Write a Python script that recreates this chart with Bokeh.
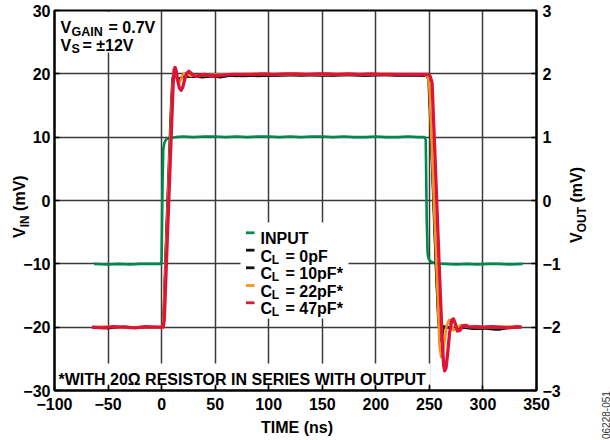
from math import pi
from bokeh.plotting import figure
from bokeh.layouts import column
from bokeh.models import Range1d, LinearAxis, FixedTicker, Label, BoxAnnotation, Div
from bokeh.embed import file_html
from bokeh.resources import INLINE

# ---------------- data ----------------
x_ticks = [-100, -50, 0, 50, 100, 150, 200, 250, 300, 350]
vin_ticks = [-30, -20, -10, 0, 10, 20, 30]
vout_ticks = [-3, -2, -1, 0, 1, 2, 3]

# INPUT (V_IN, mV)
t_in = [-63, -50, -40, -30, -20, -10, -1, 0, 0.4, 0.9, 1.6, 2.6, 4, 6, 9, 13, 20, 30, 40, 50, 60,
        70, 80, 90, 100, 110, 120, 130, 140, 150, 160, 170, 180, 190, 200, 210, 220, 230, 240,
        245.5, 246.6, 247, 247.5, 248.3, 249.3, 251, 253.5, 257, 265, 275, 285, 295, 305, 315, 325, 337]
v_in = [-10.0, -10.1, -10.0, -10.1, -10.0, -10.0, -10.0, -9.6, -4.0, 3.0, 8.2, 9.1, 9.6, 9.8, 9.9, 10.0, 10.1, 10.0, 10.1, 10.1, 10.0,
        10.1, 10.0, 10.1, 10.1, 10.0, 10.1, 10.0, 10.1, 10.1, 10.0, 10.1, 10.0, 10.0, 10.1, 10.0, 10.0, 10.1, 10.0,
        10.0, 9.6, 4.0, -3.0, -8.3, -9.2, -9.6, -9.8, -9.95, -10.0, -10.1, -10.0, -10.1, -10.0, -10.0, -10.1, -10.0]

# C_L = 0pF (V_OUT, mV)
t_c0 = [-65, -50, -35, -20, -5, 0.8, 1.8, 4, 6.5, 8.5, 9.8, 11, 12.5, 14, 16, 18.5, 21, 25, 30, 35, 40, 48, 55, 62,
        70, 80, 90, 100, 115, 130, 145, 160, 175, 190, 205, 220, 235, 247.5, 249, 251, 253.5, 256, 258, 259.5,
        261, 263, 266, 270, 276, 285, 295, 305, 315, 325, 336]
v_c0 = [-2.0, -2.02, -1.99, -2.01, -2.0, -2.0, -1.75, -0.6, 0.55, 1.45, 1.9, 2.02, 2.0, 1.93, 1.92, 1.95, 1.97, 1.96, 1.95, 1.97, 1.95, 1.96, 1.94, 1.97,
        1.96, 1.98, 1.96, 1.97, 1.98, 1.97, 1.98, 1.97, 1.98, 1.97, 1.98, 1.97, 1.98, 1.97, 1.9, 1.15, 0.0, -1.1, -1.85, -2.1,
        -2.08, -1.98, -2.02, -1.99, -2.03, -2.0, -2.03, -2.01, -2.04, -2.01, -2.0]

# C_L = 10pF*
t_c10 = [-65, -45, -25, -5, 0.9, 2.0, 4.2, 6.8, 8.8, 10.2, 11.4, 12.8, 14.5, 16.3, 18.5, 21, 25, 30, 38, 46, 55, 65,
         75, 90, 110, 130, 150, 170, 190, 210, 230, 247.8, 249.5, 251.5, 254, 256.5, 258.5, 260, 261.5, 263.5,
         266, 269, 273, 280, 290, 300, 312, 324, 336]
v_c10 = [-2.01, -2.0, -2.01, -2.0, -2.0, -1.78, -0.62, 0.5, 1.42, 1.88, 2.04, 2.02, 1.92, 1.88, 1.93, 1.97, 1.95, 1.96, 1.94, 1.96, 1.95, 1.97,
         1.96, 1.97, 1.97, 1.98, 1.97, 1.98, 1.97, 1.98, 1.97, 1.97, 1.88, 1.05, -0.1, -1.2, -1.95, -2.22, -2.2, -2.0,
         -1.98, -2.02, -2.03, -2.0, -2.03, -2.02, -2.04, -2.01, -2.0]

# C_L = 22pF*
t_c22 = [-65, -50, -35, -20, -5, 1.0, 2.0, 4.5, 7, 9, 10.3, 11.3, 12.3, 13.5, 15, 16.3, 17.8, 19.5, 21.5, 24, 27, 31,
         36, 42, 50, 60, 75, 90, 110, 130, 150, 170, 190, 210, 230, 245, 248.5, 250, 252, 254.5, 257, 259.5, 261,
         262.3, 264, 266, 268.3, 270.5, 272.5, 275, 279, 285, 295, 310, 325, 336]
v_c22 = [-2.0, -1.99, -2.01, -2.0, -2.0, -2.0, -1.8, -0.65, 0.5, 1.4, 1.85, 2.03, 2.05, 1.98, 1.88, 1.86, 1.9, 1.98, 2.01, 1.99, 1.97, 1.97,
         1.98, 1.98, 1.99, 1.99, 1.99, 2.0, 1.99, 2.0, 1.99, 2.0, 1.99, 2.0, 1.99, 1.99, 1.96, 1.8, 0.95, -0.15, -1.2, -2.3, -2.47,
         -2.45, -2.25, -1.98, -1.89, -1.95, -2.05, -2.02, -1.97, -1.99, -2.0, -2.0, -1.99, -2.0]

# C_L = 47pF*
t_c47 = [-65, -55, -45, -35, -25, -15, -5, 1.5, 2.5, 5, 7.5, 9.5, 10.8, 11.8, 12.6, 13.6, 15, 16.5, 18.2, 19.8, 21.5,
         23.5, 25.5, 27.5, 30, 33, 36, 40, 45, 50, 58, 66, 75, 85, 95, 105, 115, 125, 135, 145, 155, 165, 175, 185,
         195, 205, 215, 225, 235, 243, 249, 250.8, 252.5, 255, 258, 260.5, 262.2, 263.3, 264.3, 265.5, 267, 268.8,
         270.8, 272.5, 274.3, 276.2, 278.5, 281, 284, 288, 293, 300, 308, 316, 324, 332, 336]
v_c47 = [-2.0, -2.01, -1.99, -2.0, -2.01, -1.99, -2.0, -2.0, -1.88, -0.75, 0.37, 1.27, 1.85, 2.07, 2.1, 2.05, 1.9, 1.78, 1.74, 1.79, 1.91,
         2.01, 2.04, 2.01, 1.97, 1.96, 1.98, 1.99, 1.97, 1.97, 1.98, 1.99, 1.99, 1.99, 2.0, 1.99, 2.0, 2.0, 1.99, 2.0, 2.0, 1.99, 2.0, 1.99,
         2.0, 1.99, 1.99, 1.99, 1.99, 1.99, 1.99, 1.96, 1.86, 0.8, -0.52, -1.6, -2.3, -2.6, -2.69, -2.65, -2.42, -2.1,
         -1.89, -1.87, -1.95, -2.06, -2.05, -1.98, -1.97, -2.0, -1.99, -2.0, -1.99, -2.0, -2.01, -1.99, -2.0]

legend_labels = ["INPUT", "0pF", "10pF*", "22pF*", "47pF*"]

# ---------------- layout ----------------
W, H = 610, 440
FL, FR, FT, FB = 54, 536, 10, 390   # frame edges in canvas pixels
FONT = "Liberation Sans"
GREEN, BLACK, ORANGE, RED = "#00894F", "#111111", "#F5921E", "#DC1438"


def X(px):
    return -100 + (px - FL) * 450.0 / (FR - FL)


def Y(py):
    return 30 - (py - FT) * 60.0 / (FB - FT)


p = figure(width=W, height=H, output_backend="svg", toolbar_location=None,
           x_range=Range1d(-100, 350), y_range=Range1d(-30, 30),
           min_border_left=FL, min_border_right=W - FR,
           min_border_top=FT, min_border_bottom=H - FB)
p.extra_y_ranges = {"vout": Range1d(-3, 3)}
p.background_fill_color = "white"
p.border_fill_color = "white"
p.outline_line_color = "black"
p.outline_line_width = 2

raxis = LinearAxis(y_range_name="vout")
p.add_layout(raxis, "right")

p.xaxis.ticker = FixedTicker(ticks=x_ticks)
p.yaxis[0].ticker = FixedTicker(ticks=vin_ticks)
raxis.ticker = FixedTicker(ticks=vout_ticks)

p.xaxis.major_label_overrides = {v: (str(v).replace("-", "\u2212")) for v in x_ticks}
p.yaxis[0].major_label_overrides = {v: (str(v).replace("-", "\u2212")) for v in vin_ticks}
raxis.major_label_overrides = {v: (str(v).replace("-", "\u2212")) for v in vout_ticks}

for ax in [p.xaxis[0], p.yaxis[0], raxis]:
    ax.axis_line_color = "black"
    ax.axis_line_width = 2
    ax.major_tick_in = 5
    ax.major_tick_out = 0
    ax.major_tick_line_color = "black"
    ax.major_tick_line_width = 1.5
    ax.minor_tick_line_color = None
    ax.major_label_text_font = FONT
    ax.major_label_text_font_style = "bold"
    ax.major_label_text_font_size = "16px"
    ax.major_label_text_color = "black"
p.xaxis.major_label_standoff = 7
p.yaxis[0].major_label_standoff = 4
raxis.major_label_standoff = 6

p.xgrid.ticker = FixedTicker(ticks=x_ticks)
p.ygrid.ticker = FixedTicker(ticks=vin_ticks)
for g in [p.xgrid[0], p.ygrid[0]]:
    g.grid_line_color = "#3a3a3a"
    g.grid_line_width = 1.5

# ---------------- traces ----------------
p.line(t_in, v_in, line_color=GREEN, line_width=2.6, line_join="round")
p.line(t_c0, v_c0, line_color=BLACK, line_width=2, line_join="round", y_range_name="vout")
p.line(t_c10, v_c10, line_color=BLACK, line_width=2, line_join="round", y_range_name="vout")
p.line(t_c22, v_c22, line_color=ORANGE, line_width=2.6, line_join="round", y_range_name="vout")
p.line(t_c47, v_c47, line_color=RED, line_width=3.3, line_join="round", y_range_name="vout")

# ---------------- white panels behind texts ----------------
for (l, r, t, b) in [(55.5, 158, 11.5, 52), (240, 348, 222, 318), (55.5, 430, 363, 384)]:
    p.add_layout(BoxAnnotation(left=X(l), right=X(r), top=Y(t), bottom=Y(b),
                               fill_color="white", fill_alpha=1.0, line_alpha=0))


def lab(text, px, py, size=16, align="left"):
    p.add_layout(Label(x=X(px), y=Y(py), text=text, text_align=align,
                       text_baseline="alphabetic", text_font=FONT, text_font_style="bold",
                       text_font_size=f"{size}px", text_color="black"))


# top-left conditions
lab("V", 60, 27)
lab("GAIN", 71, 31, size=12.5)
lab("= 0.7V", 108, 27)
lab("V", 60, 44.5)
lab("S", 71, 48.5, size=12.5)
lab("= \u00b112V", 82, 44.5)

# legend
colors = [GREEN, BLACK, BLACK, ORANGE, RED]
baselines = [238.3, 255.7, 273.3, 291.0, 308.3]
for name, c, b in zip(legend_labels, colors, baselines):
    p.segment(x0=[X(245.5)], y0=[Y(b - 6)], x1=[X(254)], y1=[Y(b - 6)],
              line_color=c, line_width=2.8, level="overlay")
    if name == "INPUT":
        lab(name, 260, b)
    else:
        lab("C", 260, b)
        lab("L", 271.3, b + 3.5, size=12)
        lab("= " + name, 285, b)

# footnote
lab("*WITH 20\u03a9 RESISTOR IN SERIES WITH OUTPUT", 58, 379)

# ---------------- texts outside the plot frame (HTML overlay) ----------------
SUB = 'font-size:12px;position:relative;top:3.5px'


def rot(left, top, inner, extra=""):
    return (f'<div style="position:absolute;left:{left}px;top:{top}px;transform:rotate(-90deg);'
            f'transform-origin:0 0;white-space:nowrap;{extra}">{inner}</div>')


ov_inner = "".join([
    rot(6.5, 233, f'V<span style="{SUB}">IN</span> (mV)'),
    rot(563.5, 238, f'V<span style="{SUB}">OUT</span> (mV)'),
    f'<div style="position:absolute;left:192px;top:415px;width:200px;text-align:center;white-space:nowrap">TIME (ns)</div>',
    rot(596.5, 434, '06228-051', extra="font-size:10px;font-weight:normal;color:#333"),
])
ov_html = (f'<div style="position:absolute;left:0px;top:-{H}px;width:{W}px;height:{H}px;'
           f"font-family:'{FONT}';font-weight:bold;font-size:16px;line-height:1;color:#000;"
           f'pointer-events:none">{ov_inner}</div>')
overlay = Div(text=ov_html, width=W, height=0,
              styles={"position": "relative", "overflow": "visible", "z-index": "5"})

layout = column(p, overlay, spacing=0)
open("out.html", "w").write(file_html(layout, INLINE))
